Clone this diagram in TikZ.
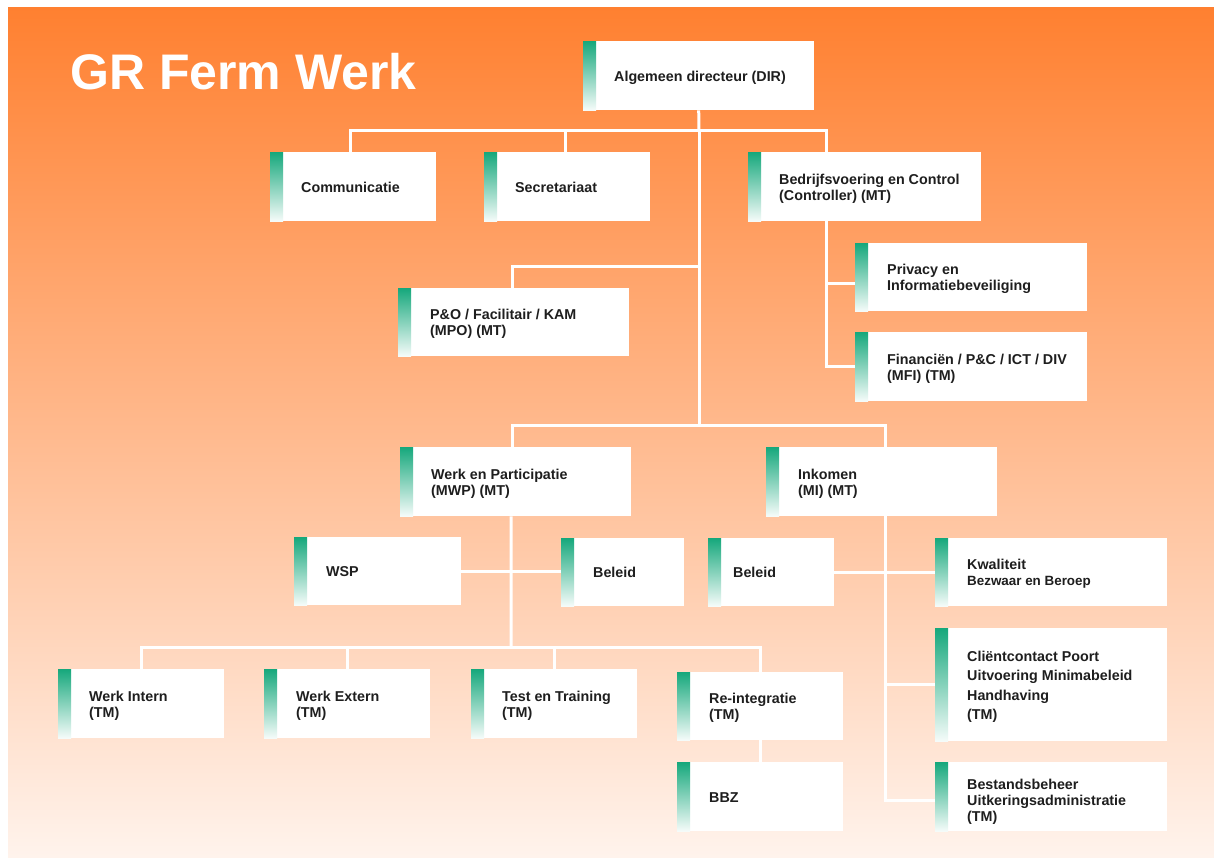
\documentclass[tikz,border=0pt]{standalone}
\usepackage{fontspec}
\setmainfont{Liberation Sans}
\definecolor{bgtop}{RGB}{255,128,48}
\definecolor{bgbot}{RGB}{255,243,236}
\definecolor{stripegreen}{RGB}{22,168,124}
\definecolor{inkcol}{RGB}{30,30,30}
\newcommand\tx[3][31]{\makebox[\dimexpr #2pt-#1pt-#1pt\relax][l]{\raisebox{0pt}[\dimexpr\height+5pt\relax][\depth]{\begin{tabular}{@{}l@{}}#3\end{tabular}}}}
\tikzset{
  unit/.style 2 args={rectangle, fill=white, inner sep=0pt,
    minimum width=#1pt, minimum height=#2pt, anchor=north west,
    font=\fontsize{14.3}{16}\selectfont\bfseries, text=inkcol,
    path picture={\shade[top color=stripegreen, bottom color=stripegreen!4]
      (path picture bounding box.north west) rectangle
      ([xshift=13pt]path picture bounding box.south west);}},
  conn/.style={draw=white, line width=3pt},
}
\begin{document}
\begin{tikzpicture}[x=1pt,y=-1pt]
\useasboundingbox (0,0) rectangle (1214,857);
\shade[top color=bgtop, bottom color=bgbot] (8,7) rectangle (1214,857);

\node[font=\fontsize{50}{60}\selectfont\bfseries, text=white, anchor=base west, inner sep=0pt] (title) at (70,89) {GR Ferm Werk};

\node[unit={231}{69}] (dir) at (583,41) {\tx{231}{Algemeen directeur (DIR)}};
\node[unit={166}{69}] (com) at (270,152) {\tx{166}{Communicatie}};
\node[unit={166}{69}] (sec) at (484,152) {\tx{166}{Secretariaat}};
\node[unit={233}{69}] (bed) at (748,152) {\tx{233}{Bedrijfsvoering en Control\\(Controller) (MT)}};
\node[unit={232}{68}] (pri) at (855,243) {\tx[32]{232}{Privacy en\\Informatiebeveiliging}};
\node[unit={232}{69}] (fin) at (855,332) {\tx[32]{232}{Financiën / P\&C / ICT / DIV\\(MFI) (TM)}};
\node[unit={231}{68}] (po) at (398,288) {\tx[32]{231}{P\&O / Facilitair / KAM\\(MPO) (MT)}};
\node[unit={231}{69}] (wp) at (400,447) {\tx{231}{Werk en Participatie\\(MWP) (MT)}};
\node[unit={231}{69}] (ink) at (766,447) {\tx[32]{231}{Inkomen\\(MI) (MT)}};
\node[unit={167}{68}] (wsp) at (294,537) {\tx[32]{167}{WSP}};
\node[unit={123}{68}] (belw) at (561,538) {\tx[32]{123}{Beleid}};
\node[unit={126}{68}] (beli) at (708,538) {\tx[25]{126}{Beleid}};
\node[unit={232}{68}] (kwa) at (935,538) {\tx[32]{232}{Kwaliteit\\{\fontsize{13.4}{15}\selectfont Bezwaar en Beroep}}};
\node[unit={232}{113}] (cli) at (935,628) {\tx[32]{232}{Cliëntcontact Poort\\[3.5pt]Uitvoering Minimabeleid\\[3.5pt]Handhaving\\[3.5pt](TM)}};
\node[unit={232}{69}] (bes) at (935,762) {\raisebox{0pt}[\dimexpr\height+6pt\relax][\depth]{\tx[32]{232}{Bestandsbeheer\\Uitkeringsadministratie\\(TM)}}};
\node[unit={166}{69}] (wi) at (58,669) {\tx{166}{Werk Intern\\(TM)}};
\node[unit={166}{69}] (we) at (264,669) {\tx[32]{166}{Werk Extern\\(TM)}};
\node[unit={166}{69}] (tt) at (471,669) {\tx{166}{Test en Training\\(TM)}};
\node[unit={166}{68}] (ri) at (677,672) {\tx[32]{166}{Re-integratie\\(TM)}};
\node[unit={166}{69}] (bbz) at (677,762) {\tx[32]{166}{BBZ}};

% connectors
\coordinate (b1) at (699,130);
\coordinate (b2) at (699,425);
\coordinate (b3) at (699,266);
\coordinate (b4) at (511,647);
\coordinate (bv) at ([xshift=-38.5pt]bed.south);
\coordinate (pp) at ([yshift=-6.5pt]pri.west);
\coordinate (iv) at ([xshift=3.5pt]ink.south);
\coordinate (bb) at ([yshift=-3.5pt]bes.west);

\draw[conn] (dir.south) -- (b1);
\draw[conn] ([xshift=-3pt]com.north) |- (b1);
\draw[conn] ([xshift=-2pt]sec.north) -- ([xshift=-2pt]sec.north |- b1);
\draw[conn] (b1) -| ([xshift=-38.5pt]bed.north);
\draw[conn] (b1) -- (b2);
\draw[conn] (b3) -| ([xshift=-1.5pt]po.north);
\draw[conn] (bv) |- (fin.west);
\draw[conn] (bv |- pp) -- (pp);
\draw[conn] ([xshift=-3.5pt]wp.north) |- (b2) -| ([xshift=3.5pt]ink.north);
\draw[conn] ([xshift=-4.5pt]wp.south) -- (b4);
\draw[conn] (wsp.east) -- (wsp.east -| belw.west);
\draw[conn] (wi.north) |- (b4) -| (ri.north);
\draw[conn] (we.north) -- (we.north |- b4);
\draw[conn] (tt.north) -- (tt.north |- b4);
\draw[conn] (ri.south) -- (bbz.north);
\draw[conn] (iv) |- (bb);
\draw[conn] (beli.east) -- (beli.east -| kwa.west);
\draw[conn] (cli.west -| iv) -- (cli.west);
\end{tikzpicture}
\end{document}
